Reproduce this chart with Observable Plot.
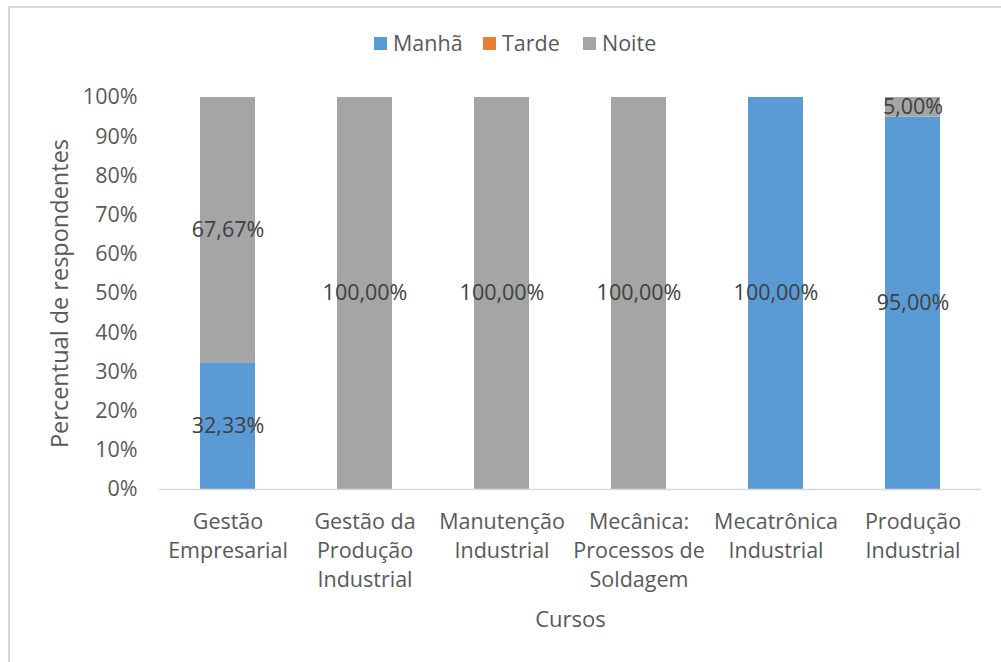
<!DOCTYPE html>
<html>
<head>
<meta charset="utf-8">
<script src="https://cdn.jsdelivr.net/npm/d3@7"></script>
<script src="https://cdn.jsdelivr.net/npm/@observablehq/plot@0.6"></script>
<style>
  html, body { margin: 0; padding: 0; background: #fff; }
  #wrap { position: relative; width: 1001px; height: 662px; overflow: hidden; font-family: "Open Sans", sans-serif; }
  #frame { position: absolute; left: 8px; top: 6px; width: 1100px; height: 800px; border: 2px solid #d9d9d9; box-sizing: border-box; pointer-events: none; }
  #legend { position: relative; height: 70px; font-size: 21.5px; color: #595959; }
  #legend .item { position: absolute; top: 28px; display: flex; align-items: center; gap: 6px; line-height: 30px; }
  #legend .sw { width: 13px; height: 13px; display: inline-block; }
  #chart svg { display: block; }
</style>
</head>
<body>
<div id="wrap">
  <div id="frame"></div>
  <div id="legend"></div>
  <div id="chart"></div>
</div>
<script>
const cursos = [
  "Gestão Empresarial",
  "Gestão da Produção Industrial",
  "Manutenção Industrial",
  "Mecânica: Processos de Soldagem",
  "Mecatrônica Industrial",
  "Produção Industrial"
];
const cursoLabels = [
  "Gestão\nEmpresarial",
  "Gestão da\nProdução\nIndustrial",
  "Manutenção\nIndustrial",
  "Mecânica:\nProcessos de\nSoldagem",
  "Mecatrônica\nIndustrial",
  "Produção\nIndustrial"
];
const turnos = ["Manhã", "Tarde", "Noite"];
const cores = ["#5b9bd5", "#ed7d31", "#a5a5a5"];
const manha = [32.33, 0, 0, 0, 100, 95];
const tarde = [0, 0, 0, 0, 0, 0];
const noite = [67.67, 100, 100, 100, 0, 5];
const yTicks = [0, 10, 20, 30, 40, 50, 60, 70, 80, 90, 100];

const series = [manha, tarde, noite];
const data = [];
turnos.forEach((t, ti) => {
  cursos.forEach((c, ci) => {
    data.push({curso: c, turno: t, value: series[ti][ci]});
  });
});
const labelMap = new Map(cursos.map((c, i) => [c, cursoLabels[i]]));
const fmt = v => v.toFixed(2).replace(".", ",") + "%";

// legend (item left positions are layout only)
const legendLeft = [374, 483, 583];
const legend = document.getElementById("legend");
turnos.forEach((t, i) => {
  const it = document.createElement("div");
  it.className = "item";
  it.style.left = legendLeft[i] + "px";
  const sw = document.createElement("span");
  sw.className = "sw";
  sw.style.background = cores[i];
  const lb = document.createElement("span");
  lb.textContent = t;
  it.appendChild(sw); it.appendChild(lb);
  legend.appendChild(it);
});

const FS = 21.5;
const chart = Plot.plot({
  width: 1001,
  height: 592,
  marginTop: 27,
  marginBottom: 173,
  marginLeft: 159,
  marginRight: 20,
  style: {fontFamily: "Open Sans, sans-serif", fontSize: FS + "px", color: "#595959", background: "transparent", overflow: "visible"},
  x: {domain: cursos, paddingInner: 0.6, paddingOuter: 0.3, label: null},
  y: {domain: [0, 100], label: null},
  color: {domain: turnos, range: cores},
  marks: [
    Plot.barY(data, {x: "curso", y: "value", fill: "turno", z: "turno"}),
    Plot.ruleY([0], {stroke: "#d9d9d9", strokeWidth: 1.5}),
    Plot.text(data.filter(d => d.value > 0), Plot.stackY({
      x: "curso", y: "value", z: "turno",
      text: d => fmt(d.value),
      fill: "#404040", fontSize: FS
    })),
    Plot.axisY({ticks: yTicks, tickSize: 0, tickPadding: 22, tickFormat: d => d + "%", fontSize: FS, label: null, fill: "#595959"}),
    Plot.axisX({tickSize: 0, tickPadding: 19, tickFormat: d => labelMap.get(d), fontSize: FS, lineHeight: 1.35, label: null, fill: "#595959", textAnchor: "middle"}),
    Plot.text(["Cursos"], {frameAnchor: "bottom", dy: 137, text: d => d, fontSize: 22, fill: "#595959", textAnchor: "middle"}),
    Plot.text(["Percentual de respondentes"], {frameAnchor: "left", dx: -99, rotate: -90, text: d => d, fontSize: 23.5, fill: "#595959", textAnchor: "middle"})
  ]
});
document.getElementById("chart").appendChild(chart);
</script>
</body>
</html>
